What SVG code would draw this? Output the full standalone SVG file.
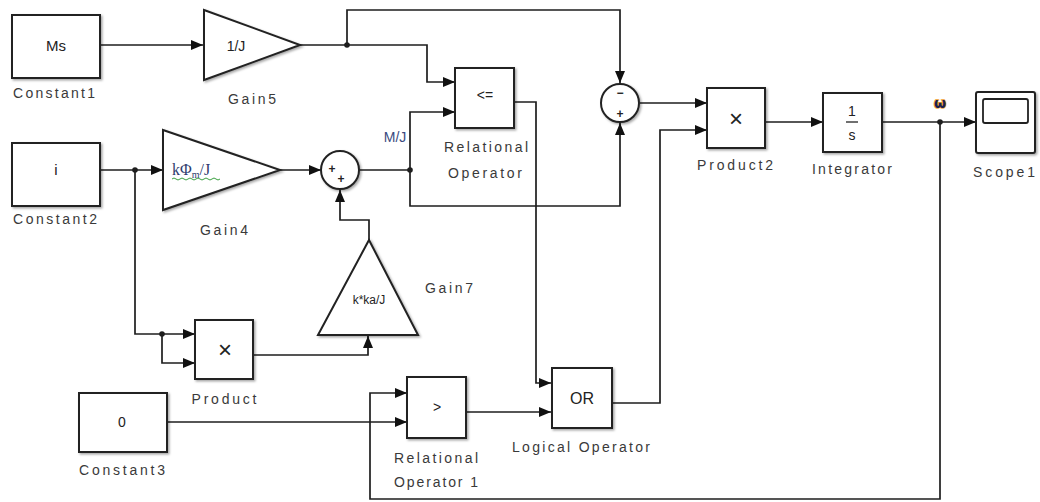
<svg xmlns="http://www.w3.org/2000/svg" width="1040" height="502" viewBox="0 0 1040 502">
<style>
.blk{fill:#fff;stroke:#222;stroke-width:2;filter:url(#sh)}
.tri{fill:#fff;stroke:#222;stroke-width:2;stroke-linejoin:miter}
.wa{fill:none;stroke:#1e1e1e;stroke-width:1.7;marker-end:url(#ah)}
.lbl{font-family:"Liberation Sans",Arial,sans-serif;font-size:14px;fill:#3a3a3a;text-anchor:middle}
.in{font-family:"Liberation Sans",Arial,sans-serif;fill:#222;text-anchor:middle}
.sg{font-family:"Liberation Sans",Arial,sans-serif;font-size:12px;fill:#222;text-anchor:middle;font-weight:bold}
.dot{fill:#1e1e1e}
</style>
<defs>
<marker id="ah" markerWidth="12" markerHeight="10" refX="12" refY="5" orient="auto" markerUnits="userSpaceOnUse">
<path d="M0,0 L12,5 L0,10 z" fill="#111"/>
</marker>
<filter id="sh" x="-10%" y="-10%" width="130%" height="130%">
<feDropShadow dx="1.5" dy="1.5" stdDeviation="1" flood-color="#000" flood-opacity="0.35"/>
</filter>
</defs>
<rect width="1040" height="502" fill="#fff"/>

<g id="connectors">
<path class="wa" d="M100,45 H203"/>
<path class="wa" d="M300,45 H427 V82 H455"/>
<path class="wa" d="M347,45 V10 H620 V83"/>
<path class="wa" d="M100,170 H163"/>
<path class="wa" d="M135,170 V334 H195"/>
<path class="wa" d="M162,334 V363 H195"/>
<path class="wa" d="M280,170 H321"/>
<path class="wa" d="M359,170 H410 V112 H455"/>
<path class="wa" d="M410,170 V206 H620 V123"/>
<path class="wa" d="M640,103 H707"/>
<path class="wa" d="M253,355 H368 V336"/>
<path class="wa" d="M369,240 V220 H340 V190"/>
<path class="wa" d="M514,102 H536 V383 H551"/>
<path class="wa" d="M167,422 H407"/>
<path class="wa" d="M466,412 H551"/>
<path class="wa" d="M612,403 H660 V130 H707"/>
<path class="wa" d="M765,122 H823"/>
<path class="wa" d="M882,122 H976"/>
<path class="wa" d="M940,122 V499 H370 V393 H407"/>
<circle class="dot" cx="347" cy="45" r="2.8"/>
<circle class="dot" cx="135" cy="170" r="2.8"/>
<circle class="dot" cx="162" cy="334" r="2.8"/>
<circle class="dot" cx="410" cy="170" r="2.8"/>
<circle class="dot" cx="940" cy="122" r="2.8"/>
<text x="940" y="108" font-family="'DejaVu Sans',sans-serif" font-size="14" font-weight="bold" fill="#1a2050" stroke="#f0a030" stroke-width="1.6" paint-order="stroke" text-anchor="middle">ω</text>
<text x="395" y="142" font-family="'Liberation Sans',Arial,sans-serif" font-size="14" fill="#3a4a80" text-anchor="middle">M/J</text>
</g>

<g id="constant1">
<rect class="blk" x="12" y="15" width="88" height="63"/>
<text class="in" x="56" y="51" style="font-size:15px">Ms</text>
<text class="lbl" x="54" y="98" textLength="82" lengthAdjust="spacing">Constant1</text>
</g>

<g id="gain5">
<polygon class="tri" points="204,10 300,45 204,80" filter="url(#sh)"/>
<text class="in" x="236" y="51" style="font-size:14px">1/J</text>
<text class="lbl" x="252" y="104" textLength="48" lengthAdjust="spacing">Gain5</text>
</g>

<g id="constant2">
<rect class="blk" x="12" y="143" width="88" height="63"/>
<text class="in" x="56" y="175" style="font-size:15px">i</text>
<text class="lbl" x="55" y="224" textLength="84" lengthAdjust="spacing">Constant2</text>
</g>

<g id="gain4">
<polygon class="tri" points="163,130 280,170 163,210" filter="url(#sh)"/>
<text x="172" y="175" font-family="'Liberation Serif','Times New Roman',serif" font-size="16" fill="#2e3c6e">kΦ<tspan font-size="10" dy="3">m</tspan><tspan dy="-3">/J</tspan></text>
<path d="M172,179 q2,-2 4,0 t4,0 t4,0 t4,0 t4,0 t4,0 t4,0 t4,0 t4,0 t4,0 t4,0 t4,0" fill="none" stroke="#3aa040" stroke-width="1"/>
<text class="lbl" x="224" y="235" textLength="48" lengthAdjust="spacing">Gain4</text>
</g>

<g id="sum1">
<circle class="blk" cx="340" cy="170" r="19"/>
<text class="sg" x="332" y="173">+</text>
<text class="sg" x="341" y="183">+</text>
</g>

<g id="relational_operator">
<rect class="blk" x="455" y="68" width="59" height="60"/>
<text class="in" x="485" y="100" style="font-size:14px">&lt;=</text>
<text class="lbl" x="486" y="152" textLength="84" lengthAdjust="spacing">Relational</text>
<text class="lbl" x="485" y="178" textLength="74" lengthAdjust="spacing">Operator</text>
</g>

<g id="sum2">
<circle class="blk" cx="620" cy="103" r="19"/>
<text class="sg" x="620" y="97">−</text>
<text class="sg" x="620" y="118">+</text>
</g>

<g id="product2">
<rect class="blk" x="707" y="88" width="58" height="60"/>
<text class="in" x="736" y="127" style="font-size:24px">×</text>
<text class="lbl" x="735" y="170" textLength="76" lengthAdjust="spacing">Product2</text>
</g>

<g id="integrator">
<rect class="blk" x="823" y="93" width="59" height="59"/>
<text class="in" x="852" y="116" style="font-size:14px">1</text>
<line x1="846" y1="122" x2="858" y2="122" stroke="#222" stroke-width="1.3"/>
<text class="in" x="852" y="140" style="font-size:14px">s</text>
<text class="lbl" x="852" y="174" textLength="80" lengthAdjust="spacing">Integrator</text>
</g>

<g id="scope1">
<rect class="blk" x="976" y="92" width="59" height="61" rx="2"/>
<rect x="983" y="99" width="45" height="24" rx="2" fill="#fff" stroke="#222" stroke-width="1.8"/>
<text class="lbl" x="1004" y="177" textLength="62" lengthAdjust="spacing">Scope1</text>
</g>

<g id="gain7">
<polygon class="tri" points="369,240 418,335 318,335" filter="url(#sh)"/>
<text class="in" x="369" y="304" style="font-size:12px">k*ka/J</text>
<text class="lbl" x="449" y="293" textLength="48" lengthAdjust="spacing">Gain7</text>
</g>

<g id="product">
<rect class="blk" x="195" y="320" width="58" height="59"/>
<text class="in" x="225" y="358" style="font-size:24px">×</text>
<text class="lbl" x="224" y="404" textLength="65" lengthAdjust="spacing">Product</text>
</g>

<g id="constant3">
<rect class="blk" x="79" y="393" width="88" height="59"/>
<text class="in" x="122" y="427" style="font-size:14px">0</text>
<text class="lbl" x="122" y="475" textLength="86" lengthAdjust="spacing">Constant3</text>
</g>

<g id="relational_operator1">
<rect class="blk" x="407" y="377" width="59" height="61"/>
<text class="in" x="437" y="412" style="font-size:14px">&gt;</text>
<text class="lbl" x="436" y="463" textLength="84" lengthAdjust="spacing">Relational</text>
<text class="lbl" x="436" y="487" textLength="84" lengthAdjust="spacing">Operator 1</text>
</g>

<g id="logical_operator">
<rect class="blk" x="552" y="368" width="60" height="60"/>
<text class="in" x="582" y="404" style="font-size:16px">OR</text>
<text class="lbl" x="581" y="452" textLength="138" lengthAdjust="spacing">Logical Operator</text>
</g>
</svg>
